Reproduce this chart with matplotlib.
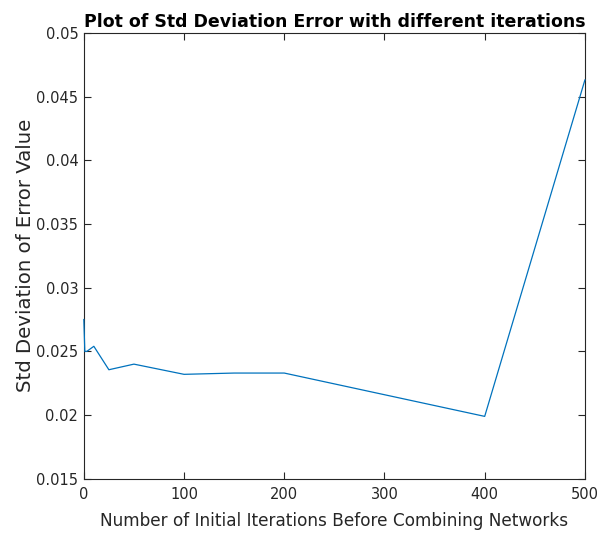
import matplotlib
matplotlib.use('Agg')
import matplotlib.pyplot as plt

# values
iterations = [0, 1, 3, 10, 25, 50, 100, 150, 200, 400, 500]
std_err = [0.0275, 0.0250, 0.0250, 0.0254, 0.02356, 0.0240,
           0.0232, 0.0233, 0.0233, 0.0199, 0.0463]

x_ticks = [0, 100, 200, 300, 400, 500]
y_ticks = [0.015, 0.02, 0.025, 0.03, 0.035, 0.04, 0.045, 0.05]
y_tick_labels = ['0.015', '0.02', '0.025', '0.03', '0.035', '0.04', '0.045', '0.05']

AX_COL = '#262626'

fig = plt.figure(figsize=(6.03, 5.38), dpi=100)
ax = fig.add_axes([0.139, 0.110, 0.831, 0.829])

ax.plot(iterations, std_err, color='#0072BD', linewidth=0.9,
        clip_on=False, zorder=5)

ax.set_xlim(0, 500)
ax.set_ylim(0.015, 0.05)
ax.set_xticks(x_ticks)
ax.set_yticks(y_ticks)
ax.set_yticklabels(y_tick_labels)
ax.tick_params(direction='in', length=5, width=0.8, top=True, right=True,
               labelsize=10.5, colors=AX_COL)
ax.tick_params(axis='x', pad=6)
ax.tick_params(axis='y', pad=4)
for s in ax.spines.values():
    s.set_color(AX_COL)
    s.set_linewidth(0.8)

ax.set_xlabel('Number of Initial Iterations Before Combining Networks',
              fontsize=12.2, color=AX_COL, labelpad=7)
ax.set_ylabel('Std Deviation of Error Value', fontsize=14.2, color=AX_COL, labelpad=1)
ax.set_title('Plot of Std Deviation Error with different iterations',
             fontsize=12.5, fontweight='bold', pad=4)

fig.savefig('out.png', dpi=100)
